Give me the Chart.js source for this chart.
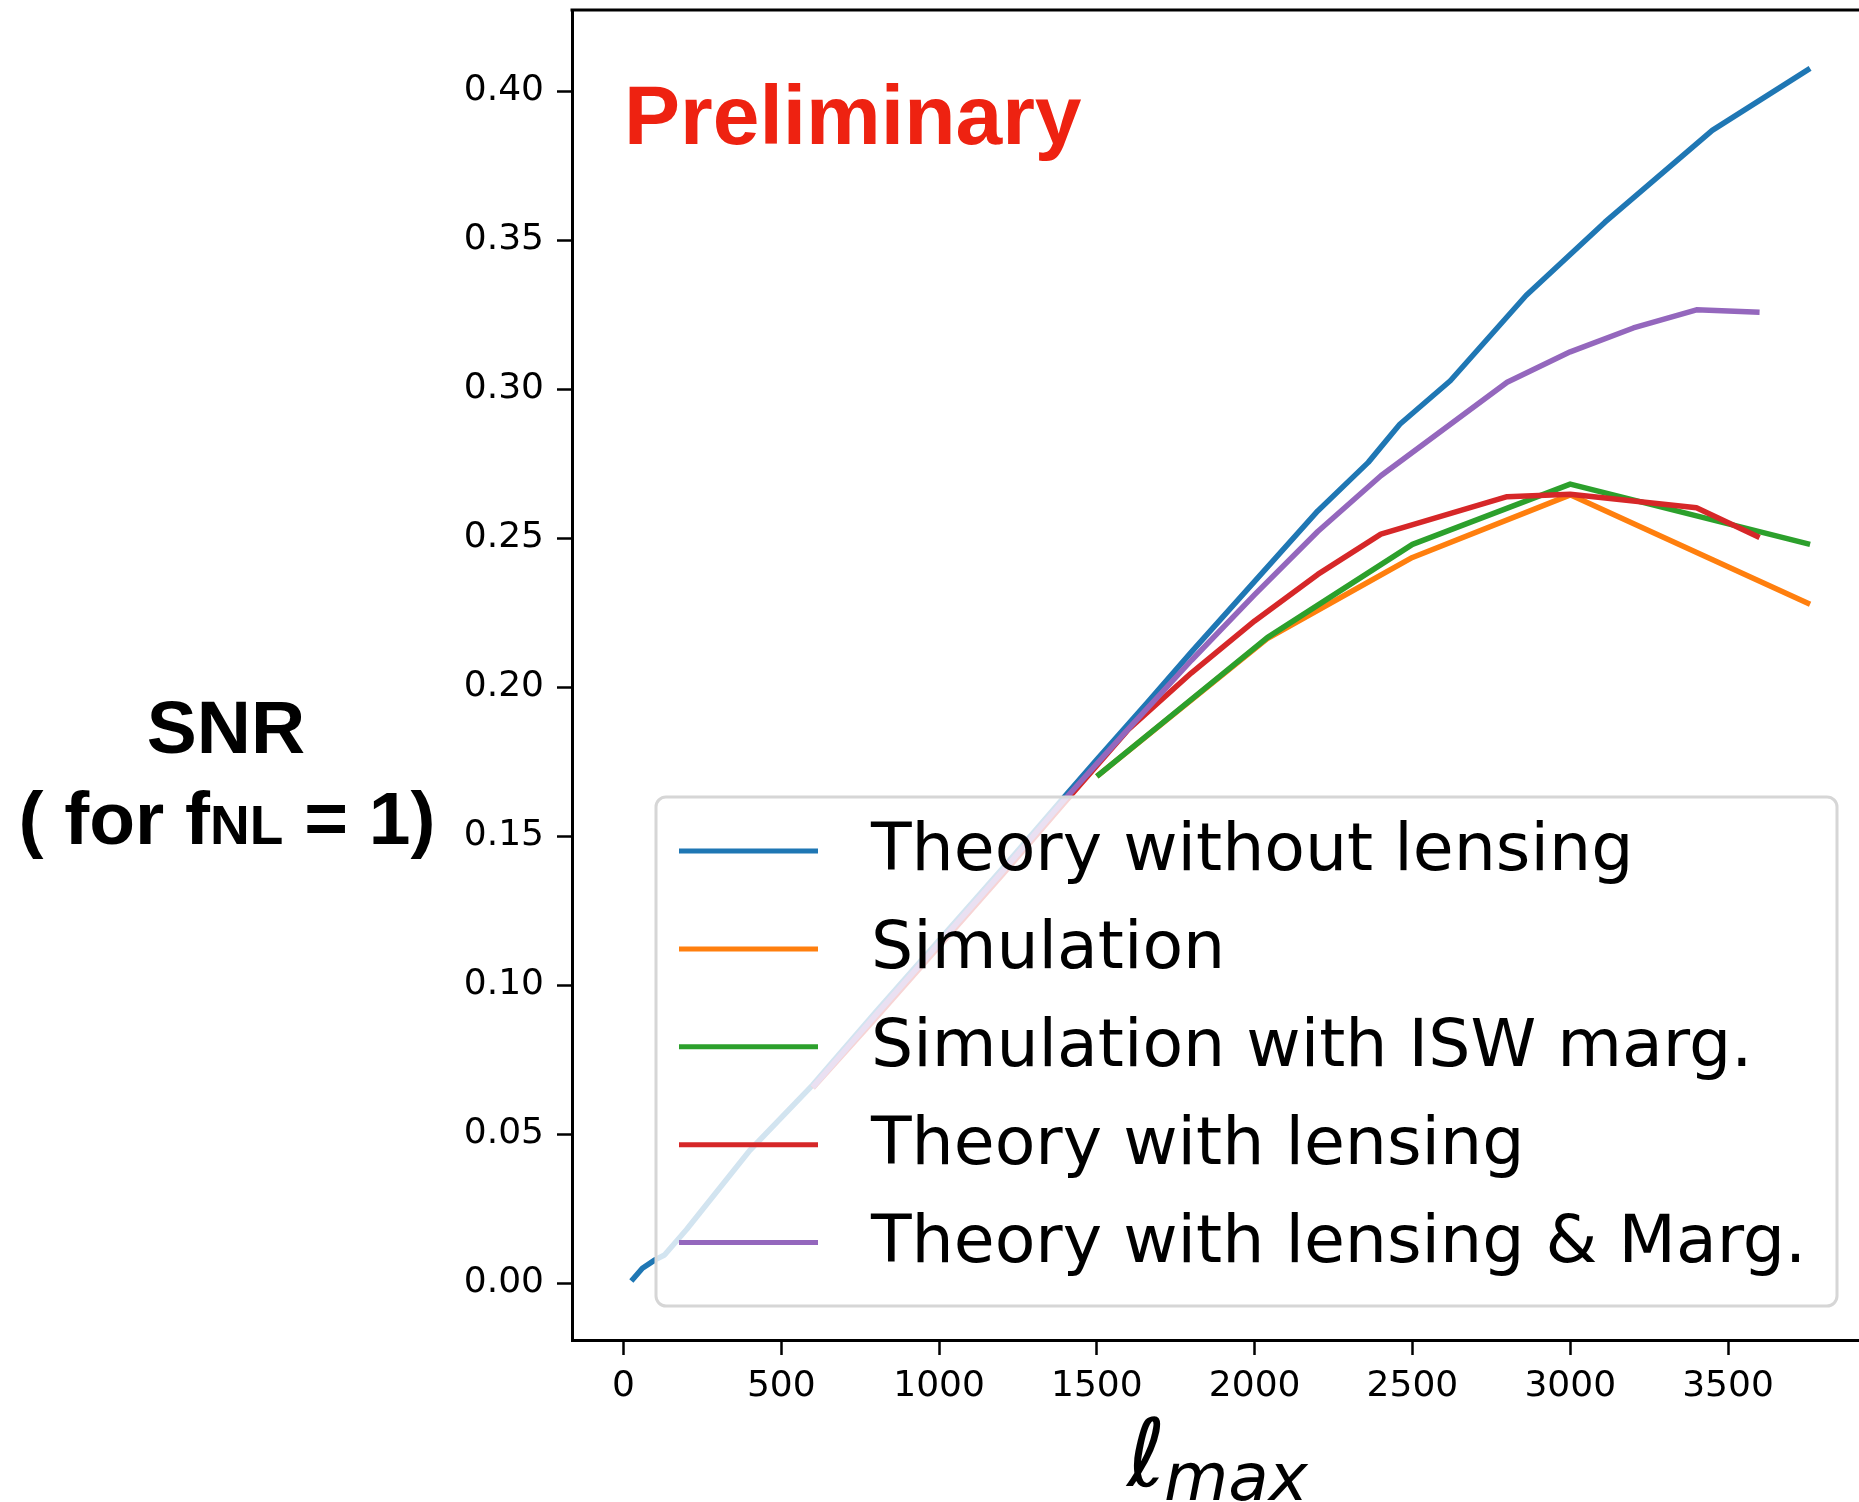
<!DOCTYPE html>
<html>
<head>
<meta charset="utf-8">
<script src="https://cdn.jsdelivr.net/npm/chart.js@4.4.1/dist/chart.umd.min.js"></script>
<style>
  html, body { margin: 0; padding: 0; background: #fff; overflow: hidden; }
  canvas { display: block; }
</style>
</head>
<body>
<canvas id="snrChart" width="1859" height="1502"></canvas>
<script>
// valores (l_max, SNR)
const ellNoLens = [25, 60, 100, 130, 200, 400, 600, 800, 1000, 1200, 1400, 1500, 1660, 1800, 2200, 2360, 2460, 2620, 2860, 3110, 3450, 3760];
const snrNoLens = [0.0007, 0.005, 0.0078, 0.0094, 0.018, 0.0445, 0.0665, 0.091, 0.115, 0.139, 0.1635, 0.1757, 0.1948, 0.2118, 0.2591, 0.2754, 0.2882, 0.3028, 0.3314, 0.356, 0.3868, 0.4076];

const ellSim = [1500, 2040, 2500, 3000, 3760];
const snrSim = [0.170, 0.2163, 0.2435, 0.2645, 0.2278];
const snrSimIsw = [0.170, 0.2166, 0.2479, 0.2681, 0.2479];

const ellLens = [600, 800, 1000, 1200, 1400, 1600, 1800, 2000, 2200, 2400, 2800, 3000, 3400, 3600];
const snrLens = [0.0655, 0.089, 0.113, 0.137, 0.1615, 0.1858, 0.2048, 0.2222, 0.2378, 0.2513, 0.2639, 0.2647, 0.2602, 0.2502];

const ellLensMarg = [600, 800, 1000, 1200, 1400, 1600, 1800, 2000, 2200, 2400, 2800, 3000, 3200, 3400, 3600];
const snrLensMarg = [0.0657, 0.090, 0.114, 0.138, 0.1625, 0.186, 0.209, 0.231, 0.2522, 0.2709, 0.3023, 0.3125, 0.3205, 0.3266, 0.3258];

const labels = ['Theory without lensing', 'Simulation', 'Simulation with ISW marg.', 'Theory with lensing', 'Theory with lensing & Marg.'];
const xTicks = [0, 500, 1000, 1500, 2000, 2500, 3000, 3500];
const yTicks = [0, 0.05, 0.10, 0.15, 0.20, 0.25, 0.30, 0.35, 0.40];

const cores = ['#1f77b4', '#ff7f0e', '#2ca02c', '#d62728', '#9467bd'];

const pontos = (xs, ys) => xs.map((x, i) => ({ x: x, y: ys[i] }));

const series = [
    pontos(ellNoLens, snrNoLens),
    pontos(ellSim, snrSim),
    pontos(ellSim, snrSimIsw),
    pontos(ellLens, snrLens),
    pontos(ellLensMarg, snrLensMarg)
];

// legenda estilo matplotlib dentro da área do gráfico
const legendaPlugin = {
    id: 'legendaMpl',
    afterDatasetsDraw(chart) {
        const ctx = chart.ctx;
        const x0 = 656, y0 = 797, w = 1181, h = 509, r = 10;
        ctx.save();
        ctx.beginPath();
        ctx.roundRect(x0, y0, w, h, r);
        ctx.fillStyle = 'rgba(255,255,255,0.8)';
        ctx.fill();
        ctx.lineWidth = 3;
        ctx.strokeStyle = '#d6d6d6';
        ctx.stroke();
        ctx.font = '66.5px "DejaVu Sans"';
        ctx.textBaseline = 'middle';
        ctx.fillStyle = '#000';
        chart.data.datasets.forEach((ds, i) => {
            const y = 851 + i * 97.9;
            ctx.beginPath();
            ctx.moveTo(679, y);
            ctx.lineTo(818, y);
            ctx.strokeStyle = ds.borderColor;
            ctx.lineWidth = 5;
            ctx.stroke();
            ctx.fillText(ds.label, 871, y + 2);
        });
        ctx.restore();
    },
    afterDraw(chart) {
        const ctx = chart.ctx;
        const area = chart.chartArea;
        ctx.save();
        // borda superior
        ctx.beginPath();
        ctx.moveTo(area.left - 1.5, area.top);
        ctx.lineTo(area.right, area.top);
        ctx.strokeStyle = '#000';
        ctx.lineWidth = 3;
        ctx.stroke();

        // texto Preliminary
        ctx.fillStyle = '#ee2211';
        ctx.font = 'bold 84px "Liberation Sans"';
        ctx.textBaseline = 'alphabetic';
        ctx.textAlign = 'left';
        ctx.fillText('Preliminary', 624, 144);

        // título do eixo y
        ctx.fillStyle = '#000';
        ctx.textAlign = 'center';
        ctx.font = 'bold 75px "Liberation Sans"';
        ctx.fillText('SNR', 226, 753);
        const grande = 'bold 75px "Liberation Sans"';
        const pequeno = 'bold 55px "Liberation Sans"';
        const partes = [['( for f', grande], ['NL', pequeno], [' = 1)', grande]];
        let total = 0;
        partes.forEach(p => { ctx.font = p[1]; total += ctx.measureText(p[0]).width; });
        let x = 227 - total / 2;
        ctx.textAlign = 'left';
        partes.forEach(p => {
            ctx.font = p[1];
            ctx.fillText(p[0], x, 844);
            x += ctx.measureText(p[0]).width;
        });

        // título do eixo x
        ctx.font = 'italic 94px "DejaVu Sans"';
        ctx.fillText('ℓ', 1127, 1486);
        ctx.font = 'italic 66px "DejaVu Sans"';
        ctx.fillText('max', 1164, 1500);
        ctx.restore();
    }
};

const eixo = {
    grid: { display: true, drawOnChartArea: false, drawTicks: true, tickLength: 15, tickWidth: 2.5, tickColor: '#000' },
    border: { display: true, color: '#000', width: 3 },
};

// remove o espaço extra que o Chart.js reserva para meio rótulo nas pontas
const semPadding = (scale) => {
    scale.paddingTop = 0;
    scale.paddingBottom = 0;
    scale.paddingLeft = 0;
    scale.paddingRight = 0;
};

new Chart(document.getElementById('snrChart'), {
    type: 'line',
    data: {
        datasets: series.map((d, i) => ({
            label: labels[i],
            data: d,
            borderColor: cores[i],
            backgroundColor: cores[i],
            borderWidth: 5.5,
            pointRadius: 0,
            tension: 0,
            fill: false,
            borderJoinStyle: 'round',
            order: 5 - i
        }))
    },
    options: {
        responsive: false,
        animation: false,
        devicePixelRatio: 1,
        layout: { padding: { top: 10, left: 0, right: 0, bottom: 0 }, autoPadding: false },
        plugins: { legend: { display: false }, tooltip: { enabled: false } },
        scales: {
            x: {
                type: 'linear',
                min: -163,
                max: 3915,
                ...eixo,
                afterBuildTicks: (scale) => { scale.ticks = xTicks.map(v => ({ value: v })); },
                afterFit: (scale) => { scale.height = 162; semPadding(scale); },
                ticks: {
                    font: { family: 'DejaVu Sans', size: 36 },
                    color: '#000',
                    padding: 10,
                    maxRotation: 0,
                    autoSkip: false,
                    callback: (v) => String(v)
                }
            },
            y: {
                type: 'linear',
                min: -0.0191,
                max: 0.4272,
                ...eixo,
                afterBuildTicks: (scale) => { scale.ticks = yTicks.map(v => ({ value: v })); },
                afterFit: (scale) => { scale.width = 572; semPadding(scale); },
                ticks: {
                    font: { family: 'DejaVu Sans', size: 36 },
                    color: '#000',
                    padding: 13,
                    autoSkip: false,
                    callback: (v) => Number(v).toFixed(2)
                }
            }
        }
    },
    plugins: [legendaPlugin]
});
</script>
</body>
</html>
